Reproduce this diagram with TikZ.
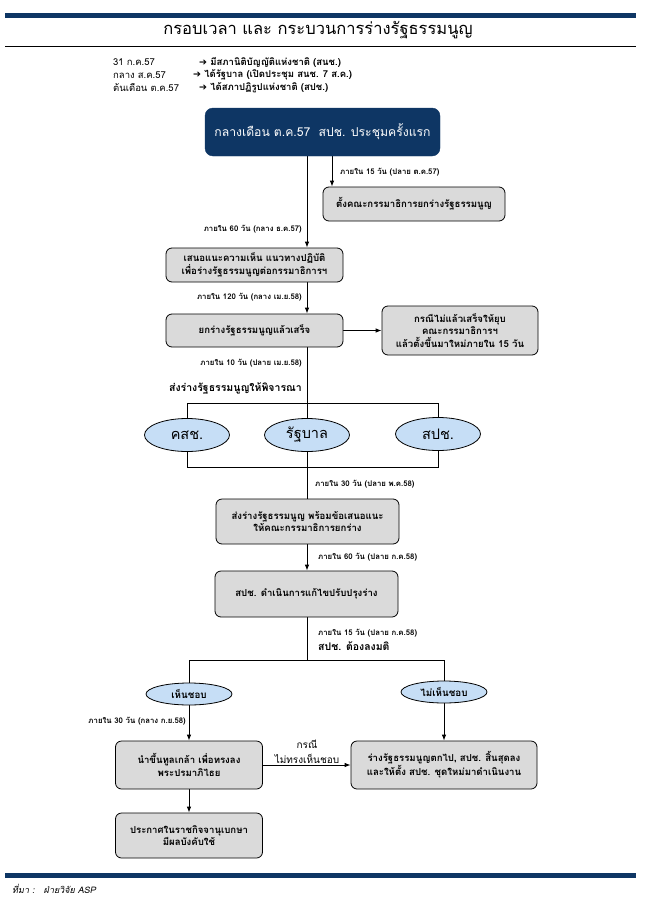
\documentclass[tikz,border=0pt]{standalone}
\usepackage{fontspec}
\setmainfont[Script=Thai]{Loma}
\newfontfamily\slantfont[Script=Thai,FakeSlant=0.2]{Loma}
\newfontfamily\symfont{DejaVu Sans}
\usepackage{tikz}
\usetikzlibrary{arrows.meta, shapes, backgrounds}
\tikzset{>={Latex[length=6pt,width=4.5pt]}}
\definecolor{mynavy}{RGB}{14, 54, 100}
\definecolor{mygray1}{RGB}{218, 218, 218}
\definecolor{myblue}{RGB}{198, 222, 246}

\begin{document}
\begin{tikzpicture}[
    x = 1pt, y = -1pt,
    box/.style = {draw, line width = 0.8pt, rounded corners = 6pt, fill = mygray1, align = center, inner sep = 0pt, font = \bfseries\fontsize{9.6}{12.5}\selectfont},
    oval/.style = {draw, line width = 0.8pt, ellipse, fill = myblue, inner sep = 0pt},
    lbl/.style = {inner sep = 0pt, font = \bfseries\fontsize{7.8}{9}\selectfont},
    hd/.style = {inner sep = 0pt, anchor = west, font = \fontsize{9.5}{11}\selectfont},
    ln/.style = {line width = 0.8pt},
]
\useasboundingbox (0,0) rectangle (659,899);

% header
\fill[mynavy] (5,13) rectangle (636,18);
\node[font = \fontsize{16.5}{20}\selectfont] (title) at (318,30) {กรอบเวลา และ กระบวนการร่างรัฐธรรมนูญ};
\draw[ln] (5,46) -- (636,46);

\node[hd] (d1) at (113,62) {31 ก.ค.57};
\node[hd] (d2) at (113,75) {กลาง ส.ค.57};
\node[hd] (d3) at (113,88) {ต้นเดือน ต.ค.57};
\node[hd] (e1) at (199,62) {{\symfont ➔} \textbf{มีสภานิติบัญญัติแห่งชาติ (สนช.)}};
\node[hd] (e2) at (193,75) {{\symfont ➔} \textbf{ได้รัฐบาล (เปิดประชุม สนช. 7 ส.ค.)}};
\node[hd] (e3) at (199,88) {{\symfont ➔} \textbf{ได้สภาปฏิรูปแห่งชาติ (สปช.)}};

% boxes
\node[draw = mynavy, fill = mynavy, rounded corners = 8pt, text = white, minimum width = 235pt, minimum height = 48pt, font = \fontsize{12.2}{14}\selectfont] (box1) at (322.5,132) {กลางเดือน ต.ค.57\ \ สปช. ประชุมครั้งแรก};
\node[box, minimum width = 182pt, minimum height = 34pt] (box2) at (414,204) {ตั้งคณะกรรมาธิการยกร่างรัฐธรรมนูญ};
\node[box, minimum width = 177pt, minimum height = 34pt] (box3) at (254.5,265) {เสนอแนะความเห็น แนวทางปฏิบัติ\\เพื่อร่างรัฐธรรมนูญต่อกรรมาธิการฯ};
\node[box, minimum width = 177pt, minimum height = 33pt] (box4) at (254.5,330.5) {ยกร่างรัฐธรรมนูญแล้วเสร็จ};
\node[box, minimum width = 156pt, minimum height = 49pt] (box5) at (460,330.5) {กรณีไม่แล้วเสร็จให้ยุบ\\คณะกรรมาธิการฯ\\แล้วตั้งขึ้นมาใหม่ภายใน 15 วัน};
\node[box, minimum width = 183pt, minimum height = 45pt] (box6) at (307.5,521.5) {ส่งร่างรัฐธรรมนูญ พร้อมข้อเสนอแนะ\\ให้คณะกรรมาธิการยกร่าง};
\node[box, minimum width = 183pt, minimum height = 46pt] (box7) at (306.5,594) {สปช. ดำเนินการแก้ไขปรับปรุงร่าง};
\node[box, minimum width = 147pt, minimum height = 48pt] (box8) at (189,765) {นำขึ้นทูลเกล้า เพื่อทรงลง\\พระปรมาภิไธย};
\node[box, minimum width = 186pt, minimum height = 48pt] (box9) at (444,765) {ร่างรัฐธรรมนูญตกไป, สปช. สิ้นสุดลง\\และให้ตั้ง สปช. ชุดใหม่มาดำเนินงาน};
\node[box, minimum width = 147pt, minimum height = 45pt] (box10) at (189,835.5) {ประกาศในราชกิจจานุเบกษา\\มีผลบังคับใช้};

% ovals
\node[oval, minimum width = 85pt, minimum height = 33pt, font = \fontsize{14.5}{16}\selectfont] (kcs) at (187,435) {คสช.};
\node[oval, minimum width = 85pt, minimum height = 33pt, font = \fontsize{14.5}{16}\selectfont] (gov) at (307,435) {รัฐบาล};
\node[oval, minimum width = 85pt, minimum height = 33pt, font = \fontsize{14.5}{16}\selectfont] (spc) at (438,434) {สปช.};
\node[oval, minimum width = 86pt, minimum height = 22pt, font = \bfseries\fontsize{9.8}{11}\selectfont] (yes) at (189,694) {เห็นชอบ};
\node[oval, minimum width = 86pt, minimum height = 22pt, font = \bfseries\fontsize{9.8}{11}\selectfont] (no) at (444,692) {ไม่เห็นชอบ};

% labels
\node[lbl, anchor = west] (l1) at (340,172) {ภายใน 15 วัน (ปลาย ต.ค.57)};
\node[lbl, anchor = east] (l2) at (302,229) {ภายใน 60 วัน (กลาง ธ.ค.57)};
\node[lbl, anchor = east] (l3) at (302,297) {ภายใน 120 วัน (กลาง เม.ย.58)};
\node[lbl, anchor = east] (l4) at (302,363) {ภายใน 10 วัน (ปลาย เม.ย.58)};
\node[inner sep = 0pt, anchor = east, font = \bfseries\fontsize{10.5}{12}\selectfont] (send) at (302,388) {ส่งร่างรัฐธรรมนูญให้พิจารณา};
\node[lbl, anchor = west] (l5) at (315,484) {ภายใน 30 วัน (ปลาย พ.ค.58)};
\node[lbl, anchor = west] (l6) at (318,557) {ภายใน 60 วัน (ปลาย ก.ค.58)};
\node[lbl, anchor = west] (l7) at (318,633) {ภายใน 15 วัน (ปลาย ก.ค.58)};
\node[inner sep = 0pt, anchor = west, font = \bfseries\fontsize{10.5}{12}\selectfont] (vote) at (318,646) {สปช. ต้องลงมติ};
\node[lbl, anchor = east] (l8) at (186,721) {ภายใน 30 วัน (กลาง ก.ย.58)};
\node[align = center, inner sep = 0pt, font = \fontsize{10}{15}\selectfont] (cond) at (307,752) {กรณี\\ไม่ทรงเห็นชอบ};

% connectors
\coordinate (trunk) at (307,0);
\coordinate (side) at (332,0);
\coordinate (brtop) at (0,403);
\coordinate (brbot) at (0,467);
\coordinate (split) at (0,660);
\begin{scope}[on background layer]
\draw[ln, ->] (trunk |- box1.south) -- (trunk |- box3.north);
\draw[ln, ->] (side |- box1.south) -- (side |- box2.north);
\draw[ln, ->] (trunk |- box3.south) -- (trunk |- box4.north);
\draw[ln, ->] (box4.east) -- (box5.west);
\draw[ln] (trunk |- box4.south) -- (trunk |- box6.north);
\draw[ln] (kcs |- brtop) rectangle (spc |- brbot);
\draw[ln, ->] (trunk |- box6.south) -- (trunk |- box7.north);
\draw[ln] (trunk |- box7.south) -- (trunk |- split);
\draw[ln] (yes.north) -- (yes |- split) -- (no |- split) -- (no.north);
\draw[ln, ->] (yes.south) -- (box8.north);
\draw[ln, ->] (no.south) -- (box9.north);
\draw[ln, ->] (box8.east) -- (box9.west);
\draw[ln, ->] (box8.south) -- (box10.north);
\end{scope}

% footer
\fill[mynavy] (5,873) rectangle (636,878);
\node[anchor = west, inner sep = 0pt, font = \slantfont\fontsize{9}{10}\selectfont] (src) at (12,889) {ที่มา :\ \ \ ฝ่ายวิจัย ASP};
\end{tikzpicture}
\end{document}
